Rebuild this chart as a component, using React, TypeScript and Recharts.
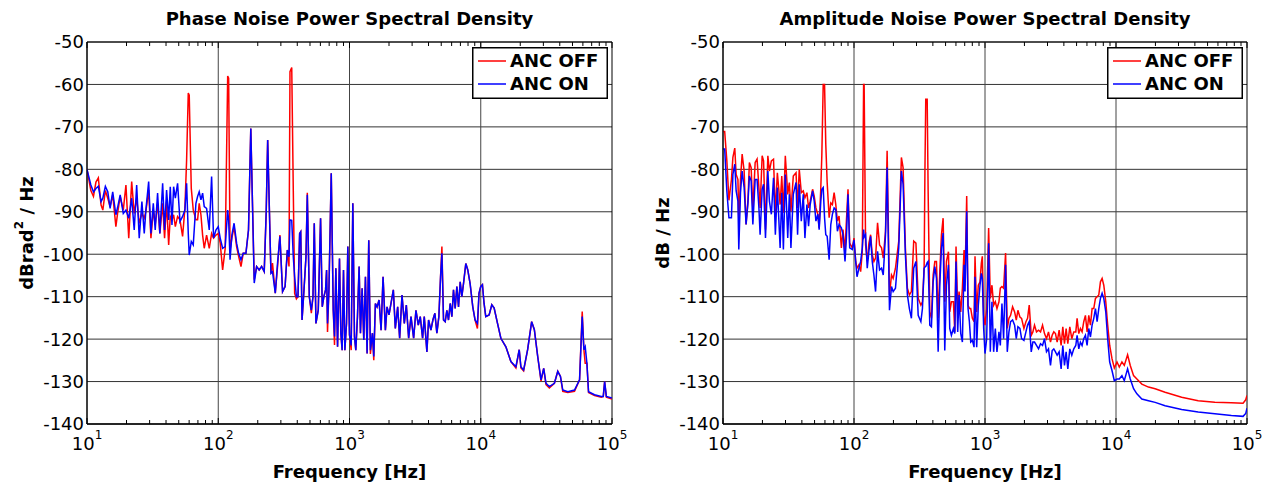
import React from "react";
import {
  LineChart,
  Line,
  XAxis,
  YAxis,
  CartesianGrid,
  ReferenceLine,
  ReferenceArea,
  Legend,
  Label,
} from "recharts";

const FONT = "DejaVu Sans";
const PLOT_TOP = 42;

const X_MAJORS = [10, 100, 1000, 10000, 100000];
const X_TICKS = [
  10, 20, 30, 40, 50, 60, 70, 80, 90,
  100, 200, 300, 400, 500, 600, 700, 800, 900,
  1000, 2000, 3000, 4000, 5000, 6000, 7000, 8000, 9000,
  10000, 20000, 30000, 40000, 50000, 60000, 70000, 80000, 90000,
  100000,
];
const Y_TICKS = [-140, -130, -120, -110, -100, -90, -80, -70, -60, -50];
const GRID_X = [100, 1000, 10000];

// phase noise, left panel
const phaseFreq = [
  10, 10.7, 11.2, 11.7, 12.2, 12.8, 13.2, 13.8, 14.4, 15,
  15.7, 16.6, 17.1, 17.9, 18.9, 19.8, 20.8, 21.9, 22.9, 23.9,
  25, 26.2, 27.3, 28.1, 29.5, 30.7, 32, 33.1, 34.5, 35.9,
  37.7, 39, 40.4, 41.9, 43.1, 44.4, 45.7, 47.1, 49, 51.1,
  53.5, 55.7, 57.4, 59.1, 60.1, 62.3, 64.5, 67.6, 69.6, 71.6,
  73.8, 76, 78.2, 81.5, 85.4, 89, 92.1, 96, 100, 103.5,
  108, 113, 118, 120, 123, 127, 132, 138, 143, 149,
  155, 162.5, 170, 177, 188, 196, 205, 214, 224, 232,
  238, 252, 259, 272, 283, 295, 309, 323, 336, 346,
  352, 363, 373, 382, 394, 405, 417, 425, 435, 450,
  466, 477, 494, 512, 527, 539, 555, 578, 602, 620,
  638, 657, 669, 680, 697, 726, 752, 769, 787, 811,
  839, 859, 879, 900, 922, 949, 971, 1000, 1030, 1060,
  1091, 1117, 1150, 1184, 1212, 1248, 1285, 1323, 1362, 1402,
  1443, 1495, 1531, 1575, 1622, 1680, 1740, 1802, 1877, 1932,
  2000, 2071, 2158, 2234, 2328, 2411, 2512, 2617, 2710, 2823,
  2941, 3081, 3209, 3343, 3460, 3605, 3712, 3888, 4004, 4171,
  4318, 4472, 4631, 4796, 4941, 5058, 5205, 5360, 5520, 5680,
  5850, 6024, 6200, 6385, 6576, 6771, 6973, 7176, 7390, 7694,
  7965, 8296, 8695, 9053, 9433, 9700, 10000, 10300, 10600, 10920,
  11580, 12140, 12650, 13420, 14230, 15540, 16970, 18530, 19640, 20230,
  21210, 22760, 24430, 25610, 27160, 28790, 30170, 31410, 33310, 36400,
  38620, 40480, 42170, 46060, 51800, 56600, 59300, 61070, 62500, 64400,
  66250, 73630, 82800, 85800, 87900, 90570, 100000,
];
const phaseOff = [
  -80, -85, -86.4, -83, -82, -88.4, -89.6, -85, -86.8, -88.8,
  -86, -93.5, -90.4, -86.4, -89.6, -83.7, -96.2, -82.9, -90.4, -86.8,
  -92.7, -90.4, -91.5, -89.9, -84.9, -96.2, -89.6, -93.1, -88, -95.1,
  -88, -96.2, -87.6, -97.8, -91.1, -91.9, -90.7, -93.5, -91.1, -91.9,
  -95.8, -89.2, -77.8, -62, -62.5, -84.5, -89.6, -91.9, -91.9, -88,
  -90.7, -95.5, -98.6, -95.5, -98.6, -95.1, -96.2, -95.5, -95.1, -97.4,
  -103.7, -98.6, -58, -58.5, -99, -96.2, -93.5, -98.2, -100.5, -102.9,
  -99.8, -99.8, -94.3, -70.4, -106, -102.9, -103.7, -102.9, -104.1, -90,
  -73.1, -104.5, -102.1, -109.2, -102.9, -95.5, -108.8, -107.6, -99, -102.9,
  -57, -56, -85, -109.2, -110.5, -110, -95.1, -94.7, -115.5, -108.4,
  -100.6, -85.5, -110, -113.9, -110, -92.7, -116.3, -113.2, -91.5, -112.4,
  -110, -108.4, -103.7, -118.3, -108.4, -80.9, -113.2, -121.4, -103.3, -121.8,
  -101, -118.6, -122.6, -103.7, -122.6, -116.3, -98.2, -119, -122.6, -88,
  -119.4, -122.6, -114.7, -102.9, -118.6, -108, -120.2, -105.3, -123.4, -96.7,
  -123.5, -118.6, -125, -111.6, -112.4, -110.8, -117.9, -105.3, -117.9, -112.4,
  -114.3, -111.6, -108.4, -117.5, -112.4, -119.8, -109.6, -116.3, -112, -119.8,
  -114.7, -119.8, -113.2, -116.7, -114.7, -119.8, -114.7, -123, -115.5, -117.9,
  -115.5, -113.9, -118.6, -114.7, -105.3, -98.2, -115.5, -115.9, -113.2, -115.5,
  -111.6, -114.7, -108.4, -112.8, -107.6, -112.4, -106.5, -110, -106.9, -102.2,
  -103.7, -106.9, -112.4, -115.5, -117.5, -109.2, -107.6, -107.2, -111.6, -114.7,
  -114.3, -111.9, -112.7, -116.3, -119.8, -121.8, -125.3, -126.8, -122.5, -126.8,
  -127.5, -122.5, -115.9, -117.8, -124.1, -129.9, -126.9, -130.7, -131.5, -130.4,
  -127.6, -128.8, -132.3, -132.6, -132.3, -129.6, -113.5, -122.5, -125.7, -125.7,
  -132.6, -133.3, -133.7, -133.5, -130, -133.7, -134.1,
];
const phaseOn = [
  -80, -83.7, -85.3, -84.5, -84, -87.6, -86.8, -84, -85.3, -89.2,
  -85.3, -90.7, -89, -86, -90.4, -89.6, -91.5, -86.8, -94.3, -83.7,
  -96.2, -87.6, -95.1, -89.6, -82.9, -95.1, -88, -94.3, -85.6, -95.1,
  -83.3, -94.3, -84.9, -91.9, -84.1, -93.1, -84.1, -86.8, -83.3, -92.3,
  -91.1, -89.6, -83.3, -95.1, -100.2, -97, -97.8, -88, -86.4, -85.3,
  -87.2, -85.6, -88.8, -89.2, -94.3, -81.7, -96.2, -94.3, -93.5, -96.2,
  -98.6, -98.2, -89.6, -92, -101.3, -95.5, -92.7, -97.4, -99.8, -101.3,
  -99.8, -99.8, -94.3, -70.4, -106.8, -102.9, -103.7, -102.9, -104.1, -90,
  -73.1, -104.5, -104.1, -109.2, -102.1, -95.8, -108.8, -107.6, -99, -100.6,
  -91.9, -92, -100.6, -105.3, -110, -110, -95.1, -94.7, -115.5, -108.4,
  -100.6, -86, -110, -113.2, -110, -92.7, -116.3, -113.2, -91.5, -112.4,
  -110, -108.4, -103.7, -116.3, -108.4, -80.9, -113.2, -119.4, -103.3, -121.8,
  -101, -118.6, -122.6, -103.7, -122.6, -116.3, -98.2, -119, -121.5, -88,
  -119.4, -122.6, -114.7, -102.9, -118.6, -108, -120.2, -105.3, -123.4, -96.7,
  -122.6, -118.6, -124.1, -111.6, -112.4, -110.8, -117.9, -105.3, -117.9, -112.4,
  -114.3, -111.6, -108.4, -117.5, -112.4, -119.8, -109.6, -116.3, -112, -119.8,
  -114.7, -119.8, -113.2, -116.7, -114.7, -119.8, -114.7, -123, -115.5, -117.9,
  -115.5, -113.9, -118.6, -114.7, -105.3, -99.8, -115.5, -115.9, -113.2, -115.5,
  -111.6, -114.7, -108.4, -112.8, -107.6, -112.4, -106.5, -110, -106.9, -102.2,
  -103.7, -106.9, -112.4, -115.5, -116.3, -109.2, -107.6, -107.2, -111.6, -114.7,
  -114.3, -111.9, -112.7, -116.3, -119.8, -121.8, -125.3, -126.5, -122.5, -126.5,
  -127.3, -122.5, -115.9, -117.8, -124.1, -129.6, -126.9, -130.4, -131.2, -130.4,
  -127.6, -128.8, -132, -132.4, -132, -129.6, -114.7, -122.5, -121.8, -125.7,
  -132.4, -133.1, -133.5, -133.5, -130, -133.5, -133.9,
];

// amplitude noise, right panel
const ampFreq = [
  10, 10.3, 10.7, 11.1, 11.6, 11.9, 12.3, 12.6, 13, 13.2,
  13.6, 14, 14.5, 15, 15.5, 15.9, 16.4, 16.9, 17.6, 18.2,
  18.8, 19.2, 19.9, 20.4, 21.1, 22, 22.6, 23.4, 24.3, 25.1,
  26, 27.3, 28.1, 28.9, 29.9, 31.2, 32.1, 33, 34.4, 36.1,
  37.1, 38.2, 39.6, 41, 42.2, 43.7, 45, 46.3, 48.3, 49.7,
  51.2, 53, 54.2, 55.8, 56.8, 58.2, 59.6, 60.9, 62.4, 64.6,
  66.5, 68.4, 70.5, 72.6, 74.7, 76.9, 80.1, 82.4, 85.4, 87.5,
  90, 92.7, 97.1, 100, 103, 105.4, 109.1, 112.4, 115.7, 118.4,
  119.5, 122.6, 126.2, 130, 133.9, 137.8, 141.9, 146.1, 151.3, 156.7,
  162.3, 167.2, 174, 179, 186.6, 193.3, 199, 207.3, 219.6, 230,
  237, 246.8, 255.6, 264.7, 274.3, 285.6, 297, 309, 324, 333,
  343, 348, 353, 362, 368, 379, 390, 402, 414, 426,
  439, 452, 465, 479, 493, 508, 526, 538, 554, 574,
  588, 601, 619, 634, 653, 672, 692, 704, 725, 742,
  760, 778, 801, 825, 839, 864, 889, 916, 938, 954,
  977, 1000, 1030, 1066, 1098, 1130, 1164, 1199, 1234, 1278,
  1309, 1347, 1387, 1436, 1479, 1523, 1568, 1624, 1683, 1733,
  1783, 1847, 1902, 1982, 2053, 2113, 2176, 2254, 2320, 2388,
  2473, 2563, 2654, 2749, 2846, 2948, 3053, 3162, 3256, 3352,
  3452, 3554, 3681, 3812, 3926, 4043, 4163, 4287, 4440, 4598,
  4762, 4932, 5047, 5198, 5350, 5510, 5674, 5843, 6017, 6196,
  6380, 6570, 6766, 6968, 7175, 7389, 7608, 7835, 8068, 8356,
  8640, 8950, 9320, 9710, 10180, 10600, 11100, 11570, 12260, 12850,
  13620, 14440, 15750, 17700, 19900, 23700, 31700, 42400, 56800, 76000,
  93300, 97800, 100000,
];
const ampOff = [
  -71.1, -71.1, -78, -87.3, -82.4, -77.2, -75, -81.2, -82.4, -92.2,
  -82.4, -76.4, -80.4, -93, -87.5, -78.4, -79.6, -89.5, -78.4, -77.6,
  -84.3, -89.1, -76.8, -78, -94.2, -76.8, -80.4, -78, -77.6, -90.6,
  -80.8, -88.3, -81.6, -90.2, -76.8, -85.9, -83.1, -89.9, -81.6, -80.8,
  -89.1, -80, -85.5, -85.1, -86.7, -85.5, -89.1, -87.5, -84.7, -86.3,
  -89.1, -90.6, -93.8, -84.3, -76.8, -60, -60, -74.1, -83.1, -91.4,
  -87.9, -88.3, -85.5, -88.3, -92.2, -91, -98.5, -94.2, -99.3, -92.2,
  -84.7, -97.4, -98.5, -96.2, -101.7, -103.3, -102.5, -104.1, -99.3, -60,
  -60, -97.8, -101.7, -97.4, -95.4, -100.1, -101.7, -100.9, -92.6, -97.8,
  -98.5, -100.9, -94.6, -75.6, -109.6, -104.9, -105.7, -103.3, -96.9, -77.2,
  -79.6, -98.5, -108, -109.6, -108.8, -96.9, -97.4, -110.4, -112, -111.2,
  -103.3, -80, -63.5, -63.5, -85, -113.6, -115.1, -104.9, -101.7, -101.7,
  -115.1, -104.1, -95.4, -91.5, -111.2, -101.7, -99.4, -113.6, -111.2, -111.2,
  -118.3, -98.2, -113.6, -108.8, -113.6, -108, -99, -105.7, -86.3, -112,
  -112.8, -112.8, -115.1, -115.9, -100.5, -113.6, -107.3, -106.5, -102.1, -100.5,
  -114.4, -116.7, -112.8, -93.8, -110.4, -107.3, -112, -111.2, -112.8, -111.2,
  -108, -107.6, -108, -99.7, -117.5, -115.1, -114.4, -112.4, -113.6, -115.5,
  -113.2, -114.8, -115.1, -117.5, -115.9, -115.1, -112, -119.1, -118.3, -116.7,
  -118.3, -117.9, -118.3, -116.7, -118.7, -119.9, -118.3, -120.7, -119.1, -118.3,
  -118.7, -120.7, -117.9, -121.5, -117.1, -121.1, -117.5, -121.1, -117.1, -119.9,
  -118.3, -118.3, -115.1, -118.7, -117.5, -118.3, -115.9, -114.4, -118.3, -114.4,
  -116.7, -112.8, -112.8, -110.4, -110, -109.6, -106.5, -105.7, -107.3, -111.2,
  -116.7, -121.5, -124.6, -126.8, -125.4, -126.6, -125.4, -126.2, -123.7, -126.2,
  -128.6, -129.4, -130.6, -131.3, -131.7, -132.5, -133.7, -134.5, -134.9, -135,
  -135.1, -134.3, -133.3,
];
const ampOn = [
  -75.2, -75.2, -85.1, -91.4, -91.4, -81.2, -78.8, -85.1, -87.5, -98.9,
  -85.5, -80.4, -84.3, -93, -87.9, -81.6, -82.7, -93, -82.4, -82.4,
  -89.1, -95.4, -84.7, -83.5, -96.2, -80.4, -87.5, -90.6, -82, -95.4,
  -84.3, -98.5, -85.5, -98.9, -81.2, -96.2, -85.9, -98.5, -85.9, -83.1,
  -95.4, -83.5, -92.2, -85.9, -96.2, -88.3, -93.4, -88.3, -85.1, -87.5,
  -92.2, -90.6, -94.2, -87.5, -84.7, -84.3, -91.4, -95.4, -95.8, -101.3,
  -93, -90.6, -89.1, -89.5, -94.6, -93, -93.8, -95.4, -101.7, -96.2,
  -85.9, -98.5, -98.9, -96.6, -101.7, -105.3, -103.3, -101.7, -98.5, -94.2,
  -96, -95.4, -103.3, -99.3, -95.8, -101.7, -104.9, -108.8, -99.3, -103.7,
  -103.3, -104.9, -95.4, -79.6, -113.2, -107.6, -108.8, -108, -98.5, -80.4,
  -83.5, -100.1, -109.6, -112.8, -115.1, -103.3, -101.7, -114.4, -115.9, -112.8,
  -103.3, -103, -102.9, -102, -101.7, -116.7, -117.1, -106.5, -102.9, -105.7,
  -123, -107.3, -98.6, -95, -122.7, -107.3, -102.5, -117.5, -119.1, -117.5,
  -118.7, -101.7, -118.3, -109.6, -118.7, -120.7, -102.5, -108.8, -89.9, -112.8,
  -115.9, -120.7, -120.3, -121.9, -105.3, -121.9, -112, -107.3, -104.5, -105.7,
  -117.5, -123.4, -119.9, -97.4, -123, -111.2, -123, -117.5, -123, -118.3,
  -121.5, -111.6, -119.9, -102.5, -123, -118.3, -115.9, -115.5, -116.7, -119.9,
  -117.1, -117.5, -119.9, -120.3, -118.3, -116.7, -115.9, -123, -120.7, -120.7,
  -121.5, -122.3, -121.1, -121.5, -119.9, -123, -122.3, -126.2, -122.7, -122.3,
  -123, -123.8, -123, -127, -121.5, -126.2, -123, -127, -122.3, -123.8,
  -122.3, -121.5, -119.1, -122.3, -120.7, -121.5, -119.9, -119.1, -121.5, -117.5,
  -119.5, -116.7, -115.1, -112.8, -115.9, -112.8, -110.4, -109.2, -110.4, -113.6,
  -119.9, -125.4, -127.4, -129.8, -129.4, -129.4, -128.6, -129.8, -127, -129.4,
  -131.7, -132.9, -134.1, -134.5, -134.9, -135.7, -136.6, -137.2, -137.6, -138,
  -138.2, -137.5, -136.3,
];

const FreqTick = (props: any) => {
  const { x, y, payload } = props;
  const v = payload.value;
  const major = X_MAJORS.includes(v);
  const len = major ? 6 : 4;
  return (
    <g>
      <line x1={x} x2={x} y1={y} y2={y - len} stroke="#000" />
      <line x1={x} x2={x} y1={PLOT_TOP} y2={PLOT_TOP + len} stroke="#000" />
      {major && (
        <text x={x} y={y + 26} textAnchor="middle" fontSize={18} fontFamily={FONT} fill="#000">
          10
          <tspan dy={-11} fontSize={12}>
            {Math.round(Math.log10(v))}
          </tspan>
        </text>
      )}
    </g>
  );
};

const renderLegend = (props: any) => {
  const items = props.payload || [];
  return (
    <svg width={136} height={52} style={{ display: "block" }}>
      <rect x={0.75} y={0.75} width={134.5} height={50.5} fill="#fff" stroke="#000" strokeWidth={1.5} />
      {items.map((it: any, i: number) => (
        <g key={i}>
          <line x1={6} x2={34} y1={14 + i * 23} y2={14 + i * 23} stroke={it.color} strokeWidth={1.5} />
          <text
            x={38}
            y={14 + i * 23}
            dy="0.36em"
            fontFamily={FONT}
            fontWeight="bold"
            fontSize={18}
            fill="#000"
          >
            {it.value}
          </text>
        </g>
      ))}
    </svg>
  );
};

interface PanelProps {
  left: number;
  width: number;
  rightMargin: number;
  title: string;
  yLabel: React.ReactNode;
  freq: number[];
  off: number[];
  on: number[];
}

const Panel: React.FC<PanelProps> = ({ left, width, rightMargin, title, yLabel, freq, off, on }) => {
  const rows = freq.map((f, i) => ({ f, off: off[i], on: on[i] }));
  const plotW = width - 87 - rightMargin;

  return (
    <div style={{ position: "absolute", left, top: 0, width, height: 487 }}>
      <div
        style={{
          position: "absolute",
          left: 87,
          top: 9,
          width: plotW,
          textAlign: "center",
          fontFamily: FONT,
          fontWeight: "bold",
          fontSize: 18,
          lineHeight: "20px",
          color: "#000",
        }}
      >
        {title}
      </div>
      <LineChart
        width={width}
        height={487}
        data={rows}
        margin={{ top: PLOT_TOP, right: rightMargin, bottom: 0, left: 0 }}
      >
        <CartesianGrid horizontal vertical={false} stroke="#333" />
        {GRID_X.map((g) => (
          <ReferenceLine key={g} x={g} stroke="#444" />
        ))}
        <XAxis
          dataKey="f"
          type="number"
          scale="log"
          domain={[10, 100000]}
          allowDataOverflow
          ticks={X_TICKS}
          interval={0}
          tick={<FreqTick />}
          tickLine={false}
          tickSize={0}
          tickMargin={0}
          axisLine={{ stroke: "#000" }}
          height={63}
        >
          <Label
            content={(p: any) => {
              const vb = p.viewBox || {};
              return (
                <text
                  x={vb.x + vb.width / 2}
                  y={vb.y + 54}
                  textAnchor="middle"
                  fontFamily={FONT}
                  fontWeight="bold"
                  fontSize={18}
                  fill="#000"
                >
                  Frequency [Hz]
                </text>
              );
            }}
          />
        </XAxis>
        <YAxis
          type="number"
          domain={[-140, -50]}
          ticks={Y_TICKS}
          width={87}
          tickLine={false}
          tickSize={3}
          tickMargin={0}
          axisLine={{ stroke: "#000" }}
          tick={{ fontSize: 18, fill: "#000", fontFamily: FONT }}
        >
          <Label
            content={(p: any) => {
              const vb = p.viewBox || {};
              const cy = vb.y + vb.height / 2;
              return (
                <text
                  x={26}
                  y={cy}
                  transform={`rotate(-90 26 ${cy})`}
                  textAnchor="middle"
                  dominantBaseline="central"
                  fontFamily={FONT}
                  fontWeight="bold"
                  fontSize={18}
                  fill="#000"
                >
                  {yLabel}
                </text>
              );
            }}
          />
        </YAxis>
        <Line
          dataKey="off"
          name="ANC OFF"
          stroke="#ff0000"
          strokeWidth={1.5}
          dot={false}
          type="linear"
          isAnimationActive={false}
        />
        <Line
          dataKey="on"
          name="ANC ON"
          stroke="#0000ff"
          strokeWidth={1.5}
          dot={false}
          type="linear"
          isAnimationActive={false}
        />
        <ReferenceArea
          x1={10}
          x2={100000}
          y1={-140}
          y2={-50}
          fill="none"
          fillOpacity={0}
          stroke="#000"
          strokeWidth={1}
        />
        <Legend
          layout="horizontal"
          verticalAlign="middle"
          align="center"
          content={renderLegend}
          wrapperStyle={{ left: width - rightMargin - 140, top: 47, width: 136, height: 52 }}
        />
      </LineChart>
    </div>
  );
};

export default function App() {
  return (
    <div style={{ position: "absolute", left: 0, top: 0, width: 1275, height: 487, background: "#fff" }}>
      <Panel
        left={0}
        width={635}
        rightMargin={23}
        title="Phase Noise Power Spectral Density"
        yLabel={
          <>
            dBrad
            <tspan dy={-7} fontSize={12}>
              2
            </tspan>
            <tspan dy={7}> / Hz</tspan>
          </>
        }
        freq={phaseFreq}
        off={phaseOff}
        on={phaseOn}
      />
      <Panel
        left={636}
        width={639}
        rightMargin={28}
        title="Amplitude Noise Power Spectral Density"
        yLabel="dB / Hz"
        freq={ampFreq}
        off={ampOff}
        on={ampOn}
      />
    </div>
  );
}
